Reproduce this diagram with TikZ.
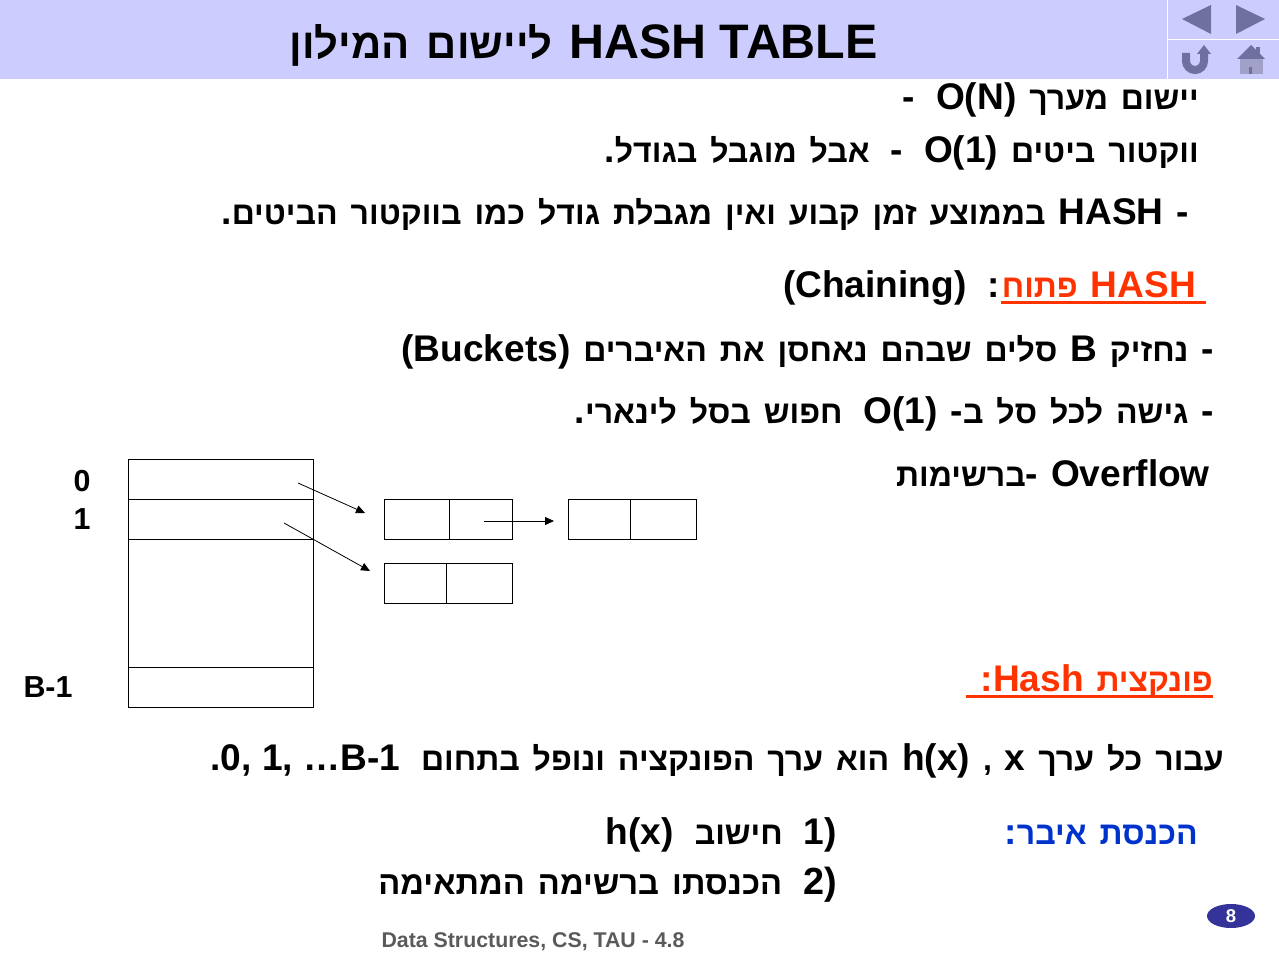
\documentclass[tikz,border=0pt]{standalone}
\usepackage{fontspec}
\setmainfont{Liberation Sans}[Script=Hebrew,BoldFont={* Bold},Scale=0.89,WordSpace=1.45]
\newfontfamily\lat{Liberation Sans}[Scale=1.03]
\TeXXeTstate=1
\usetikzlibrary{arrows.meta,shapes.geometric}
\definecolor{band}{HTML}{CCCCFF}
\definecolor{navfill}{HTML}{7070A0}
\definecolor{navbody}{HTML}{A0A0C8}
\definecolor{hot}{HTML}{FF3300}
\definecolor{insblue}{HTML}{0033CC}
\definecolor{pill}{HTML}{333399}
\definecolor{foot}{HTML}{5A5A5A}
\newcommand{\LR}[1]{\beginL{\lat #1}\endL}
\newcommand{\dsh}{{\lat -}}
\newcommand{\gap}{\hspace{21pt}}
\tikzset{x=1pt,y=-1pt,
 rt/.style={anchor=base east,inner sep=0pt,font=\bfseries\fontsize{36}{36}\selectfont},
 lt/.style={anchor=base,inner sep=0pt,font=\bfseries\fontsize{29.5}{30}\selectfont},
 cell/.style={draw=black,line width=0.75pt,anchor=north west,inner sep=0pt,outer sep=0pt},
 ptr/.style={draw=black,line width=0.8pt,-{Triangle[length=9pt,width=8pt]}},
 navtri/.style={fill=navfill,draw=none},
 uline/.style={draw=hot,line width=2.6pt}}
\begin{document}
\begin{tikzpicture}
\useasboundingbox (0,0) rectangle (1279,960);
\fill[band] (0,0) rectangle (1279,79);
\draw[white,line width=1.2pt] (1167.5,0) -- (1167.5,79) (1167.5,39.5) -- (1279,39.5);
\fill[navtri] (1182,19) -- (1211,5) -- (1211,34) -- cycle;
\fill[navtri] (1236,5) -- (1265,19) -- (1236,34) -- cycle;
\draw[navfill,line width=8pt] (1186,53) -- (1186,61) arc[start angle=180,end angle=0,radius=9] -- (1204,53);
\fill[navtri] (1197,54) -- (1204,45) -- (1211,54) -- cycle;
\fill[navbody] (1240,59) rectangle (1263,74);
\fill[navfill] (1256,47) rectangle (1260,54);
\fill[navtri] (1237,59) -- (1251,45) -- (1265,59) -- cycle;
\fill[navfill] (1249,67) rectangle (1252,74);
\node[rt,font=\bfseries\fontsize{47}{48}\selectfont] (title) at (878,59) {\beginR\LR{HASH TABLE} ליישום המילון\endR};
\node[rt] (l1) at (1199,110) {\beginR יישום מערך \LR{O(N)}\gap\dsh\endR};
\node[rt] (l2) at (1199,163) {\beginR ווקטור ביטים \LR{O(1)}\gap\dsh\gap אבל מוגבל בגודל{\lat .}\endR};
\node[rt] (l3) at (1189,225) {\beginR\dsh{} \LR{HASH} בממוצע זמן קבוע ואין מגבלת גודל כמו בווקטור הביטים{\lat .}\endR};
\node[rt,text=hot] (l4a) at (1196,297) {\beginR\LR{HASH} פתוח\endR};
\node[rt] (l4b) at (1000,297) {\beginR{\lat :}\gap\LR{(Chaining)}\endR};
\coordinate (u1a) at (1206,302.5); \coordinate (u1b) at (1001,302.5);
\draw[uline] (u1a) -- (u1b);
\node[rt] (l5) at (1214,361) {\beginR\dsh{} נחזיק \LR{B} סלים שבהם נאחסן את האיברים \LR{(Buckets)}\endR};
\node[rt] (l6) at (1214,423) {\beginR\dsh{} גישה לכל סל ב\dsh{} \LR{O(1)}\gap חפוש בסל לינארי{\lat .}\endR};
\node[rt] (l7) at (1210,486) {\beginR\LR{Overflow} \dsh ברשימות\endR};
\node[rt,text=hot] (l8) at (1213,691) {\beginR פונקצית \LR{Hash}{\lat :}\endR};
\coordinate (u2a) at (1213,696.5); \coordinate (u2b) at (966,696.5);
\draw[uline] (u2a) -- (u2b);
\node[rt] (l9) at (1224,770) {\beginR עבור כל ערך \LR{x} , \LR{h(x)} הוא ערך הפונקציה ונופל בתחום\gap\LR{0, 1, …B-1}{\lat .}\endR};
\node[rt,text=insblue] (l10) at (1198,844) {\beginR הכנסת איבר{\lat :}\endR};
\node[rt] (l11) at (837,844) {\beginR\LR{1)}\gap חישוב\gap\LR{h(x)}\endR};
\node[rt,font=\bfseries\fontsize{36.7}{36}\selectfont] (l12) at (837,894) {\beginR\LR{2)}\gap הכנסתו ברשימה המתאימה\endR};
\node[lt] (n0) at (82,491) {\lat 0};
\node[lt] (n1) at (82,529) {\lat 1};
\node[lt] (nb) at (48,697) {\lat B-1};
\node[anchor=base,inner sep=0pt,text=foot,font=\bfseries\fontsize{20.7}{21}\selectfont] (foot) at (533,947) {\lat Data Structures, CS, TAU - 4.8};
\node[ellipse,fill=pill,text=white,minimum width=48pt,minimum height=24pt,inner sep=0pt,font=\bfseries\fontsize{18}{18}\selectfont] (pg) at (1231,916) {\lat 8};
\node[cell,minimum width=185pt,minimum height=40pt] (r0) at (128.5,459.5) {};
\node[cell,minimum width=185pt,minimum height=40pt] (r1) at (128.5,499.5) {};
\node[cell,minimum width=185pt,minimum height=128pt] (r2) at (128.5,539.5) {};
\node[cell,minimum width=185pt,minimum height=40pt] (r3) at (128.5,667.5) {};
\node[cell,minimum width=65pt,minimum height=40pt] (a1) at (384.5,499.5) {};
\node[cell,minimum width=63pt,minimum height=40pt] (a2) at (449.5,499.5) {};
\node[cell,minimum width=62pt,minimum height=40pt] (b1) at (568.5,499.5) {};
\node[cell,minimum width=66pt,minimum height=40pt] (b2) at (630.5,499.5) {};
\node[cell,minimum width=62pt,minimum height=40pt] (c1) at (384.5,563.5) {};
\node[cell,minimum width=66pt,minimum height=40pt] (c2) at (446.5,563.5) {};
\coordinate (p0) at (298,483); \coordinate (q0) at (365,513);
\coordinate (p1) at (284,523); \coordinate (q1) at (370,571);
\coordinate (p2) at (484,521); \coordinate (q2) at (554,521);
\draw[ptr] (p0) -- (q0);
\draw[ptr] (p1) -- (q1);
\draw[ptr] (p2) -- (q2);
\end{tikzpicture}
\end{document}
